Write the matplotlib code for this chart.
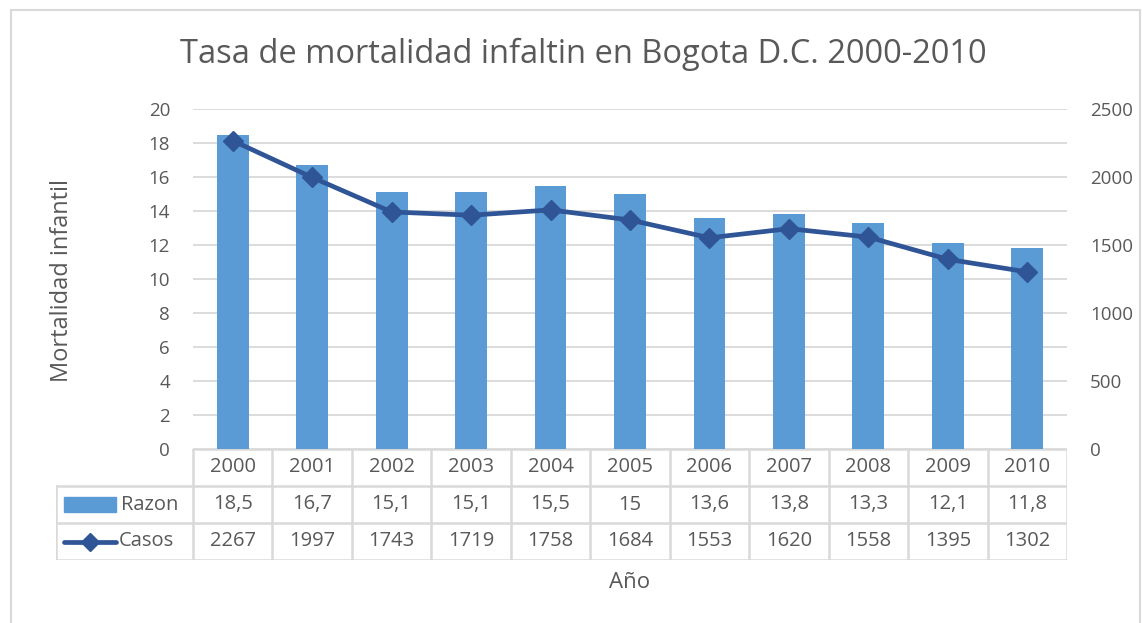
import matplotlib.pyplot as plt
from matplotlib.lines import Line2D
from matplotlib.patches import Rectangle

# Data
years = ['2000', '2001', '2002', '2003', '2004', '2005', '2006', '2007', '2008', '2009', '2010']
razon = [18.5, 16.7, 15.1, 15.1, 15.5, 15, 13.6, 13.8, 13.3, 12.1, 11.8]
casos = [2267, 1997, 1743, 1719, 1758, 1684, 1553, 1620, 1558, 1395, 1302]
razon_labels = ['18,5', '16,7', '15,1', '15,1', '15,5', '15', '13,6', '13,8', '13,3', '12,1', '11,8']
left_ticks = [0, 2, 4, 6, 8, 10, 12, 14, 16, 18, 20]
right_ticks = [0, 500, 1000, 1500, 2000, 2500]

W, H = 1142, 623
BAR_COLOR = '#5b9bd5'
LINE_COLOR = '#2f5597'
GRID_COLOR = '#d9d9d9'
TEXT_COLOR = '#595959'
FONT = ['Open Sans', 'DejaVu Sans']

plt.rcParams['font.family'] = FONT

fig = plt.figure(figsize=(W / 100, H / 100), dpi=100)


def fx(px):
    return px / W


def fy(py):
    return 1 - py / H


# outer chart frame
fig.patches.append(Rectangle((fx(11), fy(640)), fx(1140) - fx(11), fy(10) - fy(640),
                             transform=fig.transFigure, fill=False,
                             edgecolor='#d9d9d9', linewidth=1.5))

# plot area
L, R, T, B = 193, 1067, 109, 449
ax = fig.add_axes([fx(L), fy(B), fx(R) - fx(L), fy(T) - fy(B)])
x = list(range(len(years)))
ax.bar(x, razon, width=0.4, color=BAR_COLOR, zorder=2)
ax.set_xlim(-0.5, len(years) - 0.5)
ax.set_ylim(0, 20)
ax.set_yticks(left_ticks)
ax.set_xticks([])
ax.grid(axis='y', color=GRID_COLOR, linewidth=1.3, zorder=0)
for s in ax.spines.values():
    s.set_visible(False)
ax.tick_params(axis='y', length=0, pad=16.5, labelsize=13.5, labelcolor=TEXT_COLOR)

ax2 = ax.twinx()
ax2.plot(x, casos, color=LINE_COLOR, linewidth=3.4, marker='D', markersize=10,
         zorder=3, solid_capstyle='round')
ax2.set_ylim(0, 2500)
ax2.set_yticks(right_ticks)
for s in ax2.spines.values():
    s.set_visible(False)
ax2.tick_params(axis='y', length=0, pad=16.5, labelsize=13.5, labelcolor=TEXT_COLOR)

fig.text(fx(583), fy(54), 'Tasa de mortalidad infaltin en Bogota D.C. 2000-2010',
         ha='center', va='center', fontsize=23.5, color=TEXT_COLOR)
fig.text(fx(62), fy(280), 'Mortalidad infantil', rotation=90,
         ha='center', va='center', fontsize=17, color=TEXT_COLOR)

# data table
tab = fig.add_axes([fx(56), fy(560), fx(R) - fx(56), fy(B) - fy(560)])
col_px = (R - L) / len(years)
head_w = (L - 56) / col_px
tab.set_xlim(-0.5 - head_w, len(years) - 0.5)
tab.set_ylim(0, 3)
tab.axis('off')
lk = dict(color=GRID_COLOR, linewidth=1.8, solid_capstyle='projecting')
# horizontal lines
tab.plot([-0.5, len(years) - 0.5], [3, 3], **lk)
for yv in [0, 1, 2]:
    tab.plot([-0.5 - head_w, len(years) - 0.5], [yv, yv], **lk)
# vertical lines
tab.plot([-0.5 - head_w, -0.5 - head_w], [0, 2], **lk)
for i in range(len(years) + 1):
    tab.plot([i - 0.5, i - 0.5], [0, 3], **lk)

fs = 14.5
for i in x:
    tab.text(i, 2.5, years[i], ha='center', va='center', fontsize=fs, color=TEXT_COLOR)
    tab.text(i, 1.5, razon_labels[i], ha='center', va='center', fontsize=fs, color=TEXT_COLOR)
    tab.text(i, 0.5, str(casos[i]), ha='center', va='center', fontsize=fs, color=TEXT_COLOR)

# legend keys inside the table
kx0 = -0.5 - head_w + 8 / col_px
kw = 52 / col_px
tab.add_patch(Rectangle((kx0, 1.5 - 0.2), kw, 0.4, color=BAR_COLOR))
tab.text(kx0 + kw + 5 / col_px, 1.5, 'Razon', ha='left', va='center', fontsize=fs, color=TEXT_COLOR)
tab.add_line(Line2D([kx0, kx0 + kw / 2, kx0 + kw], [0.5, 0.5, 0.5], color=LINE_COLOR,
                    linewidth=3.4, marker='D', markersize=9, markevery=[1],
                    solid_capstyle='round'))
tab.text(kx0 + kw + 3 / col_px, 0.5, 'Casos', ha='left', va='center', fontsize=fs, color=TEXT_COLOR)

fig.text(fx(630), fy(582), 'Año', ha='center', va='center', fontsize=16, color=TEXT_COLOR)

fig.savefig('out.png', dpi=100)
